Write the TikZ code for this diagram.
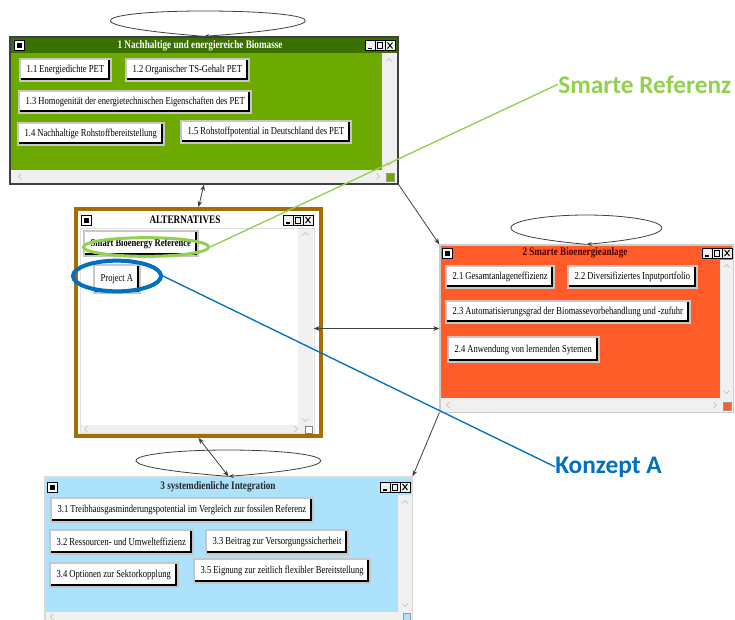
\documentclass[tikz,border=0pt]{standalone}
\usepackage{fontspec}
\newfontfamily\guifont{Liberation Serif}[FakeStretch=0.8]
\newfontfamily\notefont{Carlito}
\usetikzlibrary{fit,shapes.geometric,arrows.meta}

\definecolor{biogreen}{RGB}{108,170,0}
\definecolor{biogreendark}{RGB}{58,112,0}
\definecolor{anlagered}{RGB}{255,92,42}
\definecolor{integblue}{RGB}{172,226,252}
\definecolor{altbrown}{RGB}{166,110,0}
\definecolor{refgreen}{RGB}{146,208,80}
\definecolor{konzblue}{RGB}{0,112,192}
\definecolor{scrollgray}{RGB}{240,240,240}

\newcommand\btnsize{\fontsize{8}{9}\selectfont}

\tikzset{
  window/.style={inner sep=0pt, line width=1pt},
  titletext/.style={font=\guifont\fontsize{8.6}{9}\selectfont\bfseries, inner sep=0pt},
  btn/.style={draw=black!22, line width=1.5pt, fill=white, inner xsep=5pt, inner ysep=0pt,
    minimum height=16.5pt, font=\guifont\btnsize,
    path picture={\draw[black, line width=4.5pt] (path picture bounding box.north east)
      -- (path picture bounding box.south east) -- (path picture bounding box.south west);}},
  ctrlbox/.style={draw=black, fill=black!6, line width=0.5pt},
  chevline/.style={draw=black!28, line width=0.5pt},
  conn/.style={draw=black!75, line width=0.6pt, >={Stealth[length=4.5pt,width=3.5pt]}},
  loopline/.style={draw=black!75, line width=0.6pt, >={Stealth[length=4pt,width=3pt]}},
  ring/.style={draw=#1, ellipse, inner sep=0pt},
  note/.style={font=\notefont\fontsize{19}{22}\selectfont\bfseries, text=#1, inner sep=0pt},
  winicon/.pic={\draw[ctrlbox, fill=white] (0,-5) rectangle (10,5);
    \fill (2.5,-2.5) rectangle (7.5,2.5);},
  wincontrols/.pic={\foreach \k in {1,2,3} \draw[ctrlbox] ({-10*\k},-5) rectangle ++(10,10);
    \draw[line width=0.9pt] (-27,3) -- (-23,3);
    \draw[line width=0.6pt] (-17.5,-3) rectangle (-12.5,3);
    \draw[line width=0.7pt] (-7.5,-3) -- (-2.5,3) (-7.5,3) -- (-2.5,-3);},
  chevup/.pic={\draw[chevline] (-3,1.5) -- (0,-1.5) -- (3,1.5);},
  chevdown/.pic={\draw[chevline] (-3,-1.5) -- (0,1.5) -- (3,-1.5);},
  chevleft/.pic={\draw[chevline] (1.5,-3) -- (-1.5,0) -- (1.5,3);},
  chevright/.pic={\draw[chevline] (-1.5,-3) -- (1.5,0) -- (-1.5,3);}
}

\begin{document}
\begin{tikzpicture}[x=0.75pt, y=-0.75pt]
  \path[use as bounding box, fill=white] (0,0) rectangle (735,619);

  % window 1: biomass
  \node (bio) [window, draw=black!75, fill=biogreen, fit={(10,37) (398,184)}] {};
  \fill[biogreendark] (11,38) rectangle (397,53);
  \node (biotitle) [titletext, text=white] at (200,45.5) {1 Nachhaltige und energiereiche Biomasse};
  \pic at (14,45.5) {winicon};
  \pic at (395,45.5) {wincontrols};
  \fill[scrollgray] (382,53) rectangle (397,183);
  \fill[scrollgray] (11,170) rectangle (397,183);
  \draw[black!40, fill=biogreen] (386,173) rectangle (394,181);
  \pic at (389,60) {chevup};
  \pic at (389,164) {chevdown};
  \pic at (20,176.5) {chevleft};
  \pic at (378,176.5) {chevright};
  \node (b11) [btn, anchor=north west] at (19,58) {1.1 Energiedichte PET};
  \node (b12) [btn, anchor=north west] at (125,58) {1.2 Organischer TS-Gehalt PET};
  \node (b13) [btn, anchor=north west] at (18,90) {1.3 Homogenität der energietechnischen Eigenschaften des PET};
  \node (b14) [btn, anchor=north west] at (17,122) {1.4 Nachhaltige Rohstoffbereitstellung};
  \node (b15) [btn, anchor=north west] at (180,120) {1.5 Rohstoffpotential in Deutschland des PET};

  % alternatives
  \node (alt) [window, draw=altbrown, line width=3pt, fill=white, fit={(76,209) (321,436)}] {};
  \node (alttitle) [titletext] at (185,220) {ALTERNATIVES};
  \pic at (81,220) {winicon};
  \pic at (313,220) {wincontrols};
  \draw[black!12] (80,228) rectangle (314,433);
  \fill[scrollgray] (298,229) rectangle (313,425);
  \fill[scrollgray] (81,425) rectangle (313,433);
  \draw[black!50, fill=white] (305,426) rectangle (312,433);
  \pic at (305.5,234) {chevup};
  \pic at (305.5,420) {chevdown};
  \pic at (86,429) {chevleft};
  \pic at (296,429) {chevright};
  \node (bref) [btn, anchor=north west, minimum height=19pt, font=\guifont\btnsize\bfseries] at (83,230) {Smart Bioenergy Reference};
  \node (bproj) [btn, anchor=north west, minimum height=21pt] at (93,264) {Project A};

  % window 2: plant
  \node (anlage) [window, draw=black!20, fill=anlagered, fit={(440,245) (733,412)}] {};
  \node (anlagetitle) [titletext, text=black!70!red] at (575,253) {2 Smarte Bioenergieanlage};
  \pic at (442,253) {winicon};
  \pic at (732,253) {wincontrols};
  \fill[scrollgray] (720,260) rectangle (733,398);
  \fill[scrollgray] (441,398) rectangle (733,412);
  \draw[black!40, fill=anlagered] (723,402) rectangle (731,410);
  \pic at (726.5,266) {chevup};
  \pic at (726.5,392) {chevdown};
  \pic at (448,405) {chevleft};
  \pic at (715,405) {chevright};
  \node (b21) [btn, anchor=north west] at (445,265) {2.1 Gesamtanlageneffizienz};
  \node (b22) [btn, anchor=north west] at (567,265) {2.2 Diversifiziertes Inputportfolio};
  \node (b23) [btn, anchor=north west] at (445,300) {2.3 Automatisierungsgrad der Biomassevorbehandlung und -zufuhr};
  \node (b24) [btn, anchor=north west, minimum height=19pt] at (447,336) {2.4 Anwendung von lernenden Sytemen};

  % window 3: integration
  \node (integ) [window, draw=black!15, fill=integblue, fit={(45,477) (412,630)}] {};
  \node (integtitle) [titletext, text=black!85] at (218,487) {3 systemdienliche Integration};
  \pic at (47,487) {winicon};
  \pic at (410,487) {wincontrols};
  \fill[scrollgray] (398,495) rectangle (412,612);
  \fill[scrollgray] (46,612) rectangle (412,630);
  \draw[black!40, fill=integblue] (403,613) rectangle (410,620);
  \pic at (405,502) {chevup};
  \pic at (405,605) {chevdown};
  \pic at (52,617) {chevleft};
  \node (b31) [btn, anchor=north west, minimum height=18pt] at (50,497) {3.1 Treibhausgasminderungspotential im Vergleich zur fossilen Referenz};
  \node (b32) [btn, anchor=north west, minimum height=18pt] at (49,529) {3.2 Ressourcen- und Umwelteffizienz};
  \node (b33) [btn, anchor=north west, minimum height=18pt] at (205,529) {3.3 Beitrag zur Versorgungssicherheit};
  \node (b34) [btn, anchor=north west, minimum height=18pt] at (49,562) {3.4 Optionen zur Sektorkopplung};
  \node (b35) [btn, anchor=north west, minimum height=18pt] at (193,558) {3.5 Eignung zur zeitlich flexibler Bereitstellung};

  % self loops
  \draw[loopline, ->] (bio.north) .. controls (60,25) and (100,11) .. (204,11)
    .. controls (315,11) and (360,25) .. (bio.north);
  \draw[loopline, ->] (anlage.north) .. controls (460,233) and (515,215) .. (586,215)
    .. controls (657,215) and (712,233) .. (anlage.north);
  \draw[loopline, ->] (integ.north) .. controls (80,465) and (133,450) .. (228,450)
    .. controls (323,450) and (376,465) .. (integ.north);

  % links between windows
  \draw[conn, <->] (bio.south) -- (alt.north);
  \draw[conn, ->] (bio.south east) -- (anlage.north west);
  \draw[conn, <->, shorten <=-7pt] (anlage.west -| alt.east) -- (anlage.west);
  \draw[conn, <->] (alt.south) -- (integ.north);
  \draw[conn, ->] (anlage.south west) -- (integ.north east);

  % callouts
  \node (refring) [ring=refgreen, line width=2.25pt, minimum width=94pt, minimum height=14pt] at (146,247) {};
  \node (projring) [ring=konzblue, line width=3pt, minimum width=66pt, minimum height=23pt] at (117,276) {};
  \node (reflabel) [note=refgreen, anchor=base west] at (558,93) {Smarte Referenz};
  \node (konzlabel) [note=konzblue, anchor=base west] at (555,473) {Konzept A};
  \draw[refgreen, line width=1pt] (refring.east) -- (reflabel.west);
  \draw[konzblue, line width=1pt] (projring.east) -- (konzlabel.west);
\end{tikzpicture}
\end{document}
